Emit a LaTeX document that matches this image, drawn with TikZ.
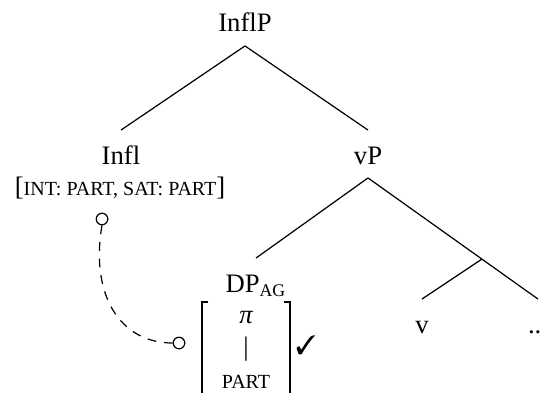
\documentclass[tikz,border=0pt]{standalone}
\usepackage{fontspec}
\setmainfont{Liberation Serif}
\usepackage{pifont}
\usetikzlibrary{calc}
\newcommand{\fsc}[1]{{\fontsize{9}{10}\selectfont #1}}

\begin{document}
\begin{tikzpicture}[x=0.45pt, y=-0.45pt, line width=0.55pt,
    font=\fontsize{12}{14}\selectfont,
    tnode/.style={inner sep=3pt, text height=12pt, text depth=3pt},
    ring/.style={draw, circle, inner sep=0pt, minimum size=5.2pt}]
    \useasboundingbox (0,0) rectangle (540,392);
    \clip (0,0) rectangle (540,392);
    % tree nodes
    \node[tnode] (InflP) at (245,22) {InflP};
    \node[tnode] (Infl) at (121,154) {Infl};
    \node[tnode] (vP) at (368,154) {vP};
    \node[tnode] (DPag) at (256,282) {DP\textsubscript{AG}};
    \node[tnode] (v) at (422,323) {v};
    \node[tnode] (rest) at (538,323) {...};
    \node (feat) at (120,188) {[\fsc{INT: PART, SAT: PART}]};
    % branches
    \draw (InflP.south) -- (Infl.north);
    \draw (InflP.south) -- (vP.north);
    \draw (vP.south) -- (DPag.north);
    \draw (vP.south) -- (rest.north);
    \coordinate (vbar) at ($(vP.south)!0.67!(rest.north)$);
    \draw (vbar) -- (v.north);
    % feature matrix of the agent
    \node[anchor=base] (pi) at (246,323) {\itshape π};
    \node[anchor=base] (bar) at (246,355) {|};
    \node[anchor=base] (part) at (246,388) {\fsc{PART}};
    \draw[line width=0.75pt] (208,302) -- (202,302) -- (202,400);
    \draw[line width=0.75pt] (284,302) -- (290,302) -- (290,400);
    \node (tick) at (306,345) {\ding{51}};
    % agree link
    \node[ring] (ringA) at (102,219) {};
    \node[ring] (ringB) at (179,343) {};
    \draw[dash pattern=on 4pt off 3.5pt] (ringA.south) .. controls (90,295) and (120,343) .. (ringB.west);
\end{tikzpicture}
\end{document}
